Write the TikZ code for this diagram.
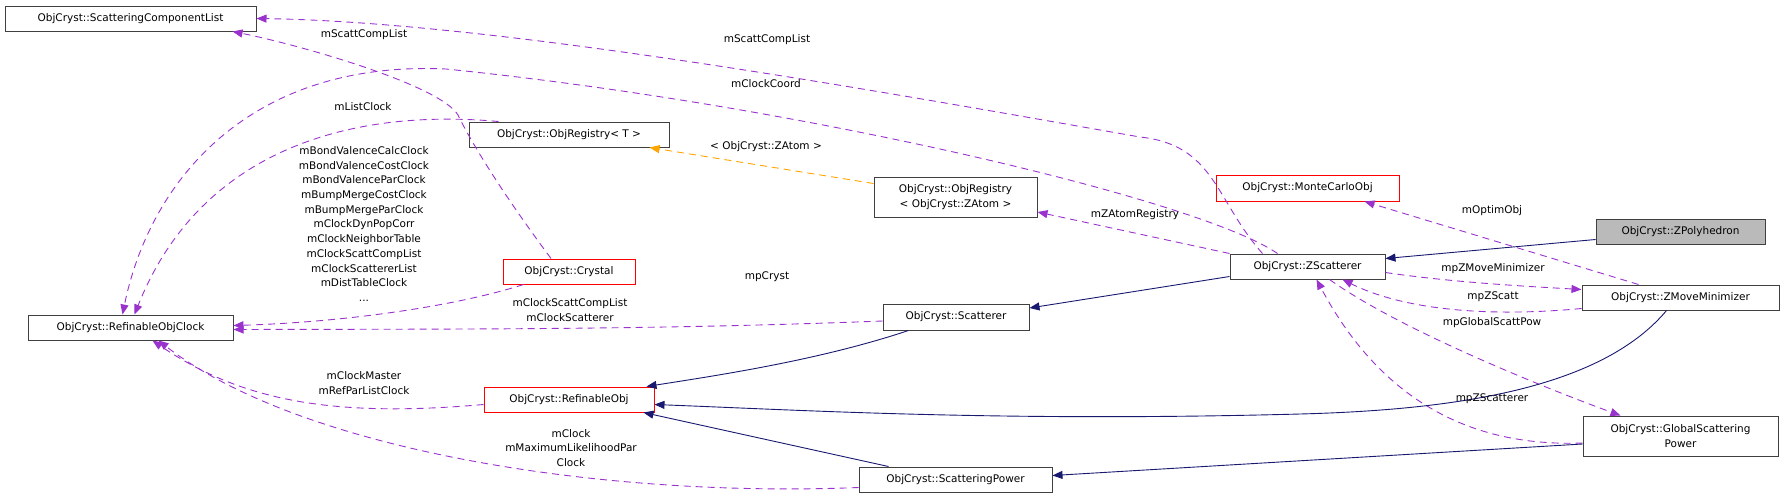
\documentclass[tikz,border=0pt]{standalone}
\usepackage{fontspec}
\setmainfont{DejaVu Sans}
\usetikzlibrary{arrows.meta,calc}
\definecolor{dep}{HTML}{9A32CD}
\definecolor{inh}{HTML}{191970}
\definecolor{tmpl}{HTML}{FFA500}
\begin{document}
\begin{tikzpicture}[x=1pt,y=-1pt,
  lbl/.style={font=\fontsize{10.5}{14.7}\selectfont,align=center,inner sep=0},
  box/.style={draw=black!75,line width=1pt,rectangle,inner sep=0,font=\fontsize{10.5}{14.7}\selectfont,align=center,fill=white},
  redbox/.style={box,draw=red},
  dep/.style={draw=dep,line width=0.9pt,dash pattern=on 7pt off 5pt,-{Triangle[length=10pt,width=8pt,fill=dep]}},
  tpl/.style={draw=tmpl,line width=0.9pt,dash pattern=on 7pt off 5pt,-{Triangle[length=10pt,width=8pt,fill=tmpl]}},
  inh/.style={draw=inh,line width=0.9pt,-{Triangle[length=10pt,width=8pt,fill=inh]}}]
\useasboundingbox (0,0) rectangle (1784,499);
\node[box,minimum width=251pt,minimum height=25pt] (scl) at (130.5,18.5) {ObjCryst::ScatteringComponentList};
\node[box,minimum width=205pt,minimum height=25pt] (roc) at (130.5,327.5) {ObjCryst::RefinableObjClock};
\node[box,minimum width=200pt,minimum height=25pt] (ort) at (569,134.5) {ObjCryst::ObjRegistry< T >};
\node[box,minimum width=163pt,minimum height=40pt] (orz) at (955.5,197) {ObjCryst::ObjRegistry\\< ObjCryst::ZAtom >};
\node[redbox,minimum width=183pt,minimum height=26pt] (mco) at (1307.5,188) {ObjCryst::MonteCarloObj};
\node[box,fill=black!27,minimum width=169pt,minimum height=25pt] (zp) at (1680.5,231.5) {ObjCryst::ZPolyhedron};
\node[box,minimum width=155pt,minimum height=25pt] (zs) at (1307.5,266.5) {ObjCryst::ZScatterer};
\node[box,minimum width=197pt,minimum height=25pt] (zmm) at (1680.5,297.5) {ObjCryst::ZMoveMinimizer};
\node[redbox,minimum width=132pt,minimum height=25pt] (cry) at (569,271.5) {ObjCryst::Crystal};
\node[box,minimum width=146pt,minimum height=26pt] (sca) at (956,317) {ObjCryst::Scatterer};
\node[redbox,minimum width=170pt,minimum height=25pt] (ro) at (569,399.5) {ObjCryst::RefinableObj};
\node[box,minimum width=195pt,minimum height=40pt] (gsp) at (1680.5,436) {ObjCryst::GlobalScattering\\Power};
\node[box,minimum width=193pt,minimum height=25pt] (sp) at (955.5,479.5) {ObjCryst::ScatteringPower};
% dependency edges
\draw[dep] ($(zs.north)+(-45,0)$) .. controls (1215,200) and (1215,145) .. (1140,137) .. controls (900,95) and (500,22) .. (scl.east);
\draw[dep] ($(cry.north)+(-18,0)$) .. controls (500,190) and (470,140) .. (458,115) .. controls (440,85) and (300,45) .. ($(scl.south east)+(-24,0)$);
\draw[dep] ($(zs.north)+(-30,0)$) .. controls (1200,200) and (800,105) .. (446,69) .. controls (250,60) and (150,180) .. ($(roc.north)+(-8,0)$);
\draw[dep] ($(ort.north west)+(30,0)$) .. controls (350,108) and (200,150) .. ($(roc.north)+(4,0)$);
\draw[dep] ($(cry.south west)+(21,0)$) .. controls (460,305) and (350,322) .. ($(roc.east)+(0,-2)$);
\draw[dep] ($(sca.west)+(0,4)$) .. controls (650,330) and (450,329) .. ($(roc.east)+(0,2)$);
\draw[dep] ($(ro.west)+(0,5)$) .. controls (330,418) and (240,400) .. ($(roc.south)+(22,0)$);
\draw[dep] ($(sp.west)+(0,8)$) .. controls (600,498) and (300,450) .. ($(roc.south)+(28,0)$);
\draw[tpl] ($(orz.north west)+(0,7)$) -- ($(ort.south east)+(-20,0)$);
\draw[dep] (zs.north west) -- ($(orz.east)+(0,15)$);
\draw[dep] ($(zmm.north)+(-42,0)$) -- ($(mco.south)+(57,0)$);
\draw[dep] ($(zs.east)+(0,6)$) .. controls (1450,282) and (1520,286) .. ($(zmm.west)+(0,-8)$);
\draw[dep] ($(zmm.west)+(0,11)$) .. controls (1480,318) and (1400,308) .. ($(zs.south)+(35,0)$);
\draw[dep] ($(zs.south)+(22,0)$) .. controls (1400,330) and (1550,390) .. ($(gsp.north)+(-60,0)$);
\draw[dep] ($(gsp.west)+(0,7)$) .. controls (1450,448) and (1370,380) .. ($(zs.south)+(9,0)$);
% inheritance edges
\draw[inh] ($(zp.west)+(0,8)$) -- ($(zs.east)+(0,-8)$);
\draw[inh] ($(zs.west)+(0,10)$) -- ($(sca.east)+(0,-9)$);
\draw[inh] ($(sca.south west)+(26,0)$) .. controls (820,360) and (720,375) .. ($(ro.north east)+(-8,0)$);
\draw[inh] ($(zmm.south)+(-14,0)$) .. controls (1600,390) and (1450,410) .. (1300,414) .. controls (1000,422) and (800,410) .. ($(ro.east)+(0,5)$);
\draw[inh] ($(sp.north west)+(30,0)$) -- ($(ro.south east)+(-11,0)$);
\draw[inh] ($(gsp.west)+(0,8)$) -- ($(sp.east)+(0,-4)$);
% labels
\node[lbl] (l1) at (767,40) {mScattCompList};
\node[lbl] (l2) at (364,35) {mScattCompList};
\node[lbl] (l3) at (766,84) {mClockCoord};
\node[lbl] (l4) at (363,107) {mListClock};
\node[lbl] (l5) at (364,224) {mBondValenceCalcClock\\mBondValenceCostClock\\mBondValenceParClock\\mBumpMergeCostClock\\mBumpMergeParClock\\mClockDynPopCorr\\mClockNeighborTable\\mClockScattCompList\\mClockScattererList\\mDistTableClock\\...};
\node[lbl] (l6) at (766,147) {< ObjCryst::ZAtom >};
\node[lbl] (l7) at (1135,215) {mZAtomRegistry};
\node[lbl] (l8) at (1492,211) {mOptimObj};
\node[lbl] (l9) at (767,277) {mpCryst};
\node[lbl] (l10) at (570,310) {mClockScattCompList\\mClockScatterer};
\node[lbl] (l11) at (364,383) {mClockMaster\\mRefParListClock};
\node[lbl] (l12) at (571,448) {mClock\\mMaximumLikelihoodPar\\Clock};
\node[lbl] (l13) at (1493,269) {mpZMoveMinimizer};
\node[lbl] (l14) at (1493,297) {mpZScatt};
\node[lbl] (l15) at (1492,323) {mpGlobalScattPow};
\node[lbl] (l16) at (1492,399) {mpZScatterer};
\end{tikzpicture}
\end{document}
